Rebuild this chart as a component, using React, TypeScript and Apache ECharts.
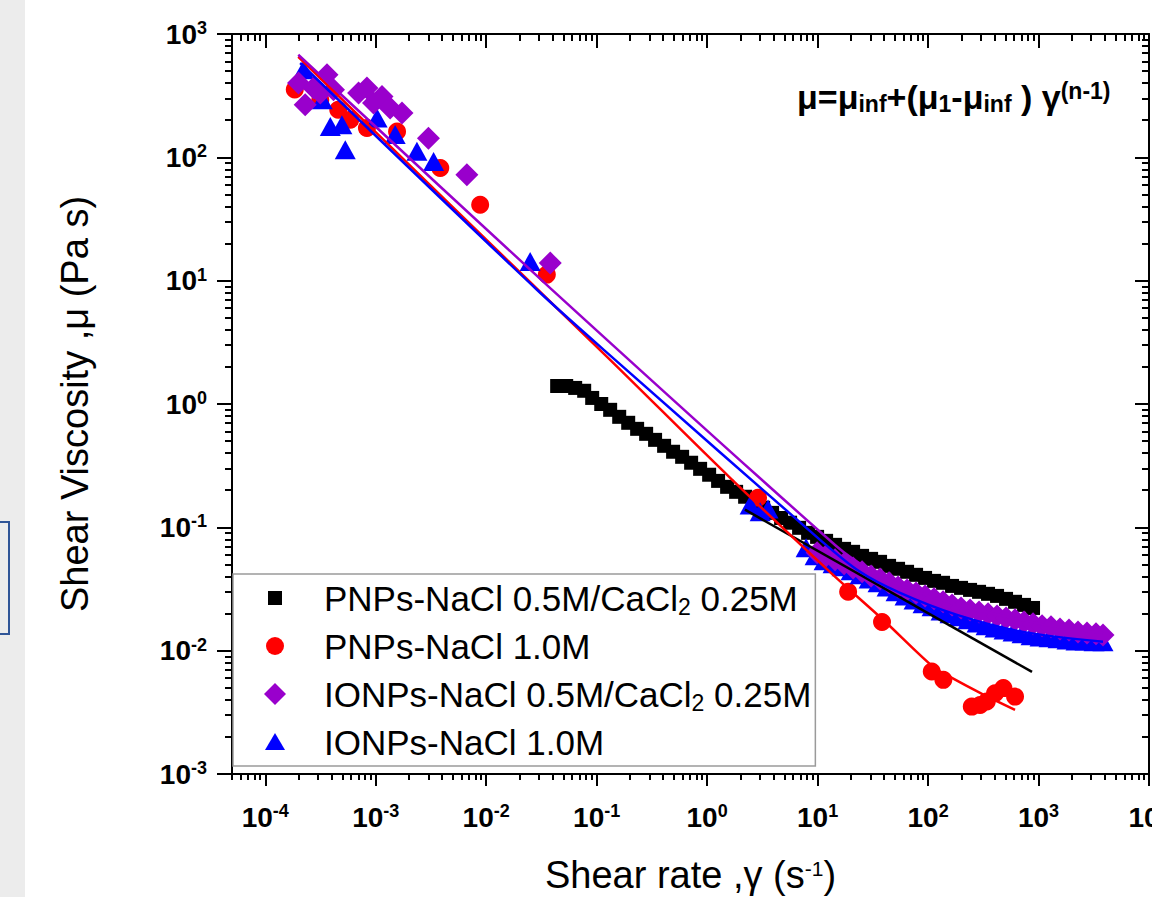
import React, { useEffect, useRef } from 'react';
import * as echarts from 'echarts';

const FONT = '"Liberation Sans", Arial, Helvetica, sans-serif';

// ---- axis ticks (log decades) ----
const xMajorTicks = [1e-4, 1e-3, 1e-2, 1e-1, 1, 1e1, 1e2, 1e3, 1e4];
const yMajorTicks = [1e-3, 1e-2, 1e-1, 1, 1e1, 1e2, 1e3];
const minorMultipliers = [2, 3, 4, 5, 6, 7, 8, 9];
const xDecades = [1e-4, 1e-3, 1e-2, 1e-1, 1, 1e1, 1e2, 1e3];
const yDecades = [1e-3, 1e-2, 1e-1, 1, 1e1, 1e2];
const xLeadMinor = [5e-5, 6e-5, 7e-5, 8e-5, 9e-5];

const xMinorTicks: number[] = [...xLeadMinor];
xDecades.forEach((d) => minorMultipliers.forEach((m) => xMinorTicks.push(+(m * d).toPrecision(6))));
const yMinorTicks: number[] = [];
yDecades.forEach((d) => minorMultipliers.forEach((m) => yMinorTicks.push(+(m * d).toPrecision(6))));

// ---- legend / series names ----
const seriesNames = [
  'PNPs-NaCl 0.5M/CaCl2 0.25M',
  'PNPs-NaCl 1.0M',
  'IONPs-NaCl 0.5M/CaCl2 0.25M',
  'IONPs-NaCl 1.0M',
];

// ---- PNPs-NaCl 0.5M/CaCl2 0.25M (black squares) ----
const blackX = [
  0.0439, 0.053, 0.0639, 0.0771, 0.0911, 0.11, 0.1325, 0.16, 0.193, 0.2325,
  0.2805, 0.338, 0.408, 0.492, 0.594, 0.7165, 0.864, 1.043, 1.257, 1.517,
  1.83, 2.208, 2.663, 3.213, 3.875, 4.675, 5.638, 6.802, 8.204, 9.897,
  11.94, 14.4, 17.37, 20.96, 25.28, 30.5, 36.78, 44.37, 53.52, 64.57,
  77.89, 93.96, 113.3, 136.7, 164.9, 198.9, 240.0, 289.5, 349.1, 421.2,
  508.1, 612.9, 739.4, 891.7,
];
const blackY = [
  1.4, 1.4, 1.35, 1.28, 1.12, 1.0, 0.897, 0.787, 0.704, 0.629,
  0.573, 0.512, 0.458, 0.41, 0.373, 0.334, 0.298, 0.267, 0.238, 0.213,
  0.194, 0.177, 0.161, 0.144, 0.131, 0.119, 0.109, 0.0991, 0.0902, 0.0837,
  0.0777, 0.0721, 0.0669, 0.0633, 0.0587, 0.0555, 0.0525, 0.0487, 0.0461, 0.0436,
  0.0412, 0.0389, 0.0368, 0.0355, 0.0335, 0.0323, 0.0311, 0.03, 0.0289, 0.0278,
  0.0263, 0.0249, 0.0235, 0.0222,
];
const blackFitX = [2.2, 873];
const blackFitY = [0.139, 0.00673];

// ---- PNPs-NaCl 1.0M (red circles) ----
const redX = [
  1.85e-4, 3.15e-4, 4.58e-4, 5.88e-4, 8.33e-4, 1.56e-3, 3.84e-3, 8.82e-3, 0.0354,
  2.89, 18.9, 38.3, 108, 137.5, 248.7, 295.6, 339.9, 404, 480.5, 612.9,
];
const redY = [
  355, 293, 243, 202, 173, 162, 81.9, 41.3, 11.2,
  0.1735, 0.03, 0.0171, 0.00677, 0.0058, 0.00352, 0.00363, 0.00387, 0.00452, 0.00497, 0.00424,
];
const redFitX = [1.99e-4, 4.72e-3, 0.1325, 1.615, 13.81, 39.2, 111, 158.2, 295.6, 612.9];
const redFitY = [654, 41.3, 2.28, 0.252, 0.0412, 0.0178, 0.00739, 0.00613, 0.00455, 0.00331];

// ---- IONPs-NaCl 1.0M (blue triangles) ----
const blueX = [
  2.22e-4, 3.28e-4, 3.88e-4, 4.94e-4, 5.3e-4, 1.03e-3, 1.5e-3, 2.36e-3, 3.34e-3, 0.025,
  2.45, 3.02, 3.56,
  7.869, 9.493, 11.45, 13.81, 16.66, 20.1, 24.24, 29.25, 35.28, 42.56,
  51.33, 61.93, 74.7, 90.1, 108.7, 131.1, 158.2, 190.8, 230.1, 277.6,
  334.9, 404.0, 487.3, 587.8, 709.1, 855.3, 1032, 1245, 1502, 1811,
  2185, 2636, 3180, 3834,
];
const blueY = [
  513, 293, 178, 184, 115, 208, 153, 112, 92.6, 14.3,
  0.152, 0.1336, 0.141,
  0.0682, 0.0587, 0.0535, 0.0506, 0.0478, 0.0444, 0.0412, 0.0382, 0.0355, 0.0329,
  0.03, 0.0278, 0.0258, 0.024, 0.0227, 0.021, 0.0199, 0.0188, 0.0178, 0.0168,
  0.0159, 0.0153, 0.0147, 0.0142, 0.0137, 0.0132, 0.0129, 0.0127, 0.0125, 0.0122,
  0.012, 0.012, 0.0118, 0.0118,
];
const blueFitX = [2.07e-4, 0.0288, 0.147, 10.53, 24.24, 55.8, 183, 724, 3834];
const blueFitY = [582, 8.44, 2.28, 0.0792, 0.0436, 0.0294, 0.0195, 0.0142, 0.0118];

// ---- IONPs-NaCl 0.5M/CaCl2 0.25M (purple diamonds) ----
const purpleX = [
  2.0e-4, 2.3e-4, 2.74e-4, 3.62e-4, 3.15e-4, 4.15e-4, 6.99e-4, 8.33e-4, 9.55e-4, 1.14e-3,
  1.35e-3, 1.73e-3, 3.0e-3, 6.69e-3, 0.038,
  9.897, 11.94, 14.4, 17.37, 20.96, 25.28, 30.5, 36.78, 44.37, 53.52,
  64.57, 77.89, 93.96, 113.3, 136.7, 164.9, 198.9, 240.0, 289.5, 349.1,
  421.2, 508.1, 612.9, 739.4, 891.7, 1076, 1297, 1565, 1888, 2278,
  2747, 3314, 3834,
];
const purpleY = [
  400, 267, 365, 468, 332, 353, 332, 365, 276, 312,
  251, 229, 143, 72.3, 13.9,
  0.0621, 0.0587, 0.0545, 0.0506, 0.0469, 0.0436, 0.0404, 0.0382, 0.0355, 0.0329,
  0.0311, 0.0294, 0.0278, 0.0263, 0.0249, 0.0235, 0.0222, 0.0214, 0.0206, 0.0199,
  0.0191, 0.0184, 0.0178, 0.0171, 0.0165, 0.0159, 0.0156, 0.015, 0.0147, 0.0142,
  0.0139, 0.0137, 0.0134,
];
const purpleFitX = [1.99e-4, 0.038, 14.92, 29.87, 64.57, 183, 518.8, 1471, 3834];
const purpleFitY = [679, 8.71, 0.0699, 0.0452, 0.0323, 0.0235, 0.0188, 0.0156, 0.0139];

const COLORS = { black: '#000000', red: '#ff0000', purple: '#9900cc', blue: '#0000ff' };

const zip = (xs: number[], ys: number[]) => xs.map((x, i) => [x, ys[i]]);

const X_MIN = 5e-5;
const X_MAX = 1e4;
const Y_MIN = 1e-3;
const Y_MAX = 1e3;

const tickLabelRich = {
  m: { fontFamily: FONT, fontSize: 28, fontWeight: 'bold', lineHeight: 30, color: '#000' },
  s: { fontFamily: FONT, fontSize: 18, fontWeight: 'bold', lineHeight: 14, verticalAlign: 'top', color: '#000' },
};
const powLabel = (v: number) => '{m|10}{s|' + Math.round(Math.log10(v)) + '}';

function makeAxis(
  dim: 'x' | 'y',
  position: string,
  ticks: number[],
  len: number,
  inside: boolean,
  showLine: boolean,
  extra: any = {}
) {
  return {
    type: 'log',
    logBase: 10,
    position,
    min: dim === 'x' ? X_MIN : Y_MIN,
    max: dim === 'x' ? X_MAX : Y_MAX,
    axisLine: { show: showLine, onZero: false, lineStyle: { color: '#000', width: 2 } },
    axisTick: { show: true, inside, length: len, customValues: ticks, lineStyle: { color: '#000', width: 2 } },
    minorTick: { show: false },
    splitLine: { show: false },
    axisLabel: { show: false },
    ...extra,
  };
}

function buildOption() {
  const xAxis = [
    makeAxis('x', 'bottom', xMajorTicks, 12, false, true, {
      axisLabel: {
        show: true,
        customValues: xMajorTicks,
        margin: 28,
        formatter: powLabel,
        rich: tickLabelRich,
      },
      name: 'Shear rate ,γ (s{sup|-1})',
      nameLocation: 'middle',
      nameGap: 84,
      nameTextStyle: {
        fontFamily: FONT,
        fontSize: 38,
        color: '#000',
        lineHeight: 34,
        rich: { sup: { fontFamily: FONT, fontSize: 21, lineHeight: 14, verticalAlign: 'top', color: '#000' } },
      },
    }),
    makeAxis('x', 'bottom', xMinorTicks, 6, false, false),
    makeAxis('x', 'top', xMajorTicks, 14, true, true),
    makeAxis('x', 'top', xMinorTicks, 7, true, false),
  ];
  const yAxis = [
    makeAxis('y', 'left', yMajorTicks, 15, false, true, {
      axisLabel: {
        show: true,
        customValues: yMajorTicks,
        margin: 25,
        formatter: powLabel,
        rich: tickLabelRich,
      },
      name: 'Shear Viscosity ,μ (Pa s)',
      nameLocation: 'middle',
      nameGap: 136,
      nameTextStyle: { fontFamily: FONT, fontSize: 38, color: '#000', lineHeight: 42 },
    }),
    makeAxis('y', 'left', yMinorTicks, 7, false, false),
    makeAxis('y', 'right', yMajorTicks, 14, true, true),
    makeAxis('y', 'right', yMinorTicks, 7, true, false),
  ];

  const scatter = (name: string, xs: number[], ys: number[], symbol: string, size: any, color: string) => ({
    type: 'scatter',
    name,
    data: zip(xs, ys),
    symbol,
    symbolSize: size,
    itemStyle: { color, opacity: 1 },
    xAxisIndex: 0,
    yAxisIndex: 0,
    silent: true,
  });
  const fit = (name: string, xs: number[], ys: number[], color: string, smooth: number) => ({
    type: 'line',
    name,
    data: zip(xs, ys),
    showSymbol: false,
    symbol: 'none',
    smooth,
    lineStyle: { color, width: 2.5 },
    itemStyle: { color },
    xAxisIndex: 0,
    yAxisIndex: 0,
    silent: true,
  });

  const series = [
    scatter(seriesNames[0], blackX, blackY, 'rect', 14, COLORS.black),
    fit('fit PNPs-NaCl 0.5M/CaCl2 0.25M', blackFitX, blackFitY, COLORS.black, 0),
    scatter(seriesNames[1], redX, redY, 'circle', 18, COLORS.red),
    fit('fit PNPs-NaCl 1.0M', redFitX, redFitY, COLORS.red, 0.3),
    scatter(seriesNames[3], blueX, blueY, 'triangle', [21, 19], COLORS.blue),
    fit('fit IONPs-NaCl 1.0M', blueFitX, blueFitY, COLORS.blue, 0.3),
    scatter(seriesNames[2], purpleX, purpleY, 'diamond', 23, COLORS.purple),
    fit('fit IONPs-NaCl 0.5M/CaCl2 0.25M', purpleFitX, purpleFitY, COLORS.purple, 0.3),
  ];

  return {
    animation: false,
    backgroundColor: '#ffffff',
    grid: { left: 232, right: 3, top: 34, bottom: 123, outerBoundsMode: 'none', containLabel: false },
    xAxis,
    yAxis,
    legend: {
      orient: 'vertical',
      left: 233,
      top: 574,
      itemWidth: 88,
      itemHeight: 22,
      itemGap: 8,
      padding: [4, 4, 4, 31],
      borderColor: '#9a9a9a',
      borderWidth: 1.5,
      borderRadius: 0,
      backgroundColor: '#ffffff',
      selectedMode: false,
      symbolKeepAspect: true,
      formatter: (name: string) => name.replace('CaCl2', 'CaCl{sub|2}'),
      textStyle: {
        fontFamily: FONT,
        fontSize: 35,
        color: '#000',
        lineHeight: 40,
        rich: { sub: { fontFamily: FONT, fontSize: 23, lineHeight: 24, verticalAlign: 'bottom', color: '#000' } },
      },
      data: [
        { name: seriesNames[0], icon: 'path://M0,0M22,22M4,4L18,4L18,18L4,18Z' },
        { name: seriesNames[1], icon: 'path://M0,0M22,22M2,11A9,9,0,1,0,20,11A9,9,0,1,0,2,11Z' },
        { name: seriesNames[2], icon: 'path://M11,0L22,11L11,22L0,11Z' },
        { name: seriesNames[3], icon: 'path://M0,0M22,22M1,19L11,2L21,19Z' },
      ],
    },
    graphic: [
      {
        type: 'rect',
        silent: true,
        z: -10,
        shape: { x: 0, y: 0, width: 25, height: 897 },
        style: { fill: '#ececec' },
      },
      {
        type: 'rect',
        silent: true,
        z: -9,
        shape: { x: -3, y: 522, width: 12, height: 112 },
        style: { fill: 'none', stroke: '#2f5597', lineWidth: 2 },
      },
      {
        type: 'text',
        silent: true,
        x: 797,
        y: 97,
        style: {
          text: '{a|μ=μ}{b|inf}{a|+(μ}{b|1}{a|-μ}{b|inf}{a| ) γ}{c|(n-1)}',
          align: 'left',
          verticalAlign: 'middle',
          rich: {
            a: { fontFamily: FONT, fontSize: 34, fontWeight: 'bold', lineHeight: 36, fill: '#000' },
            b: { fontFamily: FONT, fontSize: 23, fontWeight: 'bold', lineHeight: 14, verticalAlign: 'bottom', fill: '#000' },
            c: { fontFamily: FONT, fontSize: 23, fontWeight: 'bold', lineHeight: 10, verticalAlign: 'top', fill: '#000' },
          },
        },
      },
    ],
    series,
  };
}

export default function App() {
  const ref = useRef<HTMLDivElement>(null);
  useEffect(() => {
    if (!ref.current) return;
    const chart = echarts.init(ref.current, null, { renderer: 'svg' });
    chart.setOption(buildOption() as any);
    return () => chart.dispose();
  }, []);
  return (
    <div
      ref={ref}
      style={{ position: 'fixed', left: 0, top: 0, width: 1152, height: 897, background: '#fff' }}
    />
  );
}
